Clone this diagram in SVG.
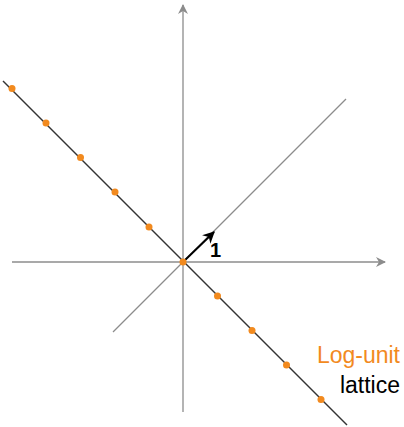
<svg xmlns="http://www.w3.org/2000/svg" width="404" height="427" viewBox="0 0 404 427">
<style>
.axis{stroke:#8c8c8c;stroke-width:1.3;fill:none}
.lat{stroke:#333;stroke-width:1.4;fill:none}
.dot{fill:#f28a1e}
.lbl{font-family:"Liberation Sans",Arial,sans-serif;font-size:23px}
</style>
<defs>
<marker id="ah" viewBox="0 0 10 10" refX="9" refY="5" markerWidth="10" markerHeight="10" markerUnits="userSpaceOnUse" orient="auto">
<path d="M0,0 L10,5 L0,10 L3,5 Z" fill="#8c8c8c"/>
</marker>
<marker id="bh" viewBox="0 0 10 10" refX="9" refY="5" markerWidth="12" markerHeight="12" markerUnits="userSpaceOnUse" orient="auto">
<path d="M0,0 L10,5 L0,10 L3,5 Z" fill="#000"/>
</marker>
</defs>
<g id="connectors">
<line class="axis" x1="12" y1="262" x2="385" y2="262" marker-end="url(#ah)"/>
<line class="axis" x1="183" y1="412" x2="183" y2="5" marker-end="url(#ah)"/>
<line class="axis" x1="113" y1="332" x2="346" y2="99"/>
<line class="lat" x1="3" y1="81" x2="347" y2="425"/>
<line x1="183" y1="262" x2="214" y2="232" stroke="#000" stroke-width="2" marker-end="url(#bh)"/>
</g>
<g id="lattice-points">
<circle class="dot" cx="12" cy="88.5" r="3.5"/>
<circle class="dot" cx="46" cy="123" r="3.5"/>
<circle class="dot" cx="80.5" cy="157.5" r="3.5"/>
<circle class="dot" cx="115" cy="192" r="3.5"/>
<circle class="dot" cx="149" cy="227" r="3.5"/>
<circle class="dot" cx="183" cy="262" r="3.5"/>
<circle class="dot" cx="217.5" cy="296" r="3.5"/>
<circle class="dot" cx="252" cy="330.5" r="3.5"/>
<circle class="dot" cx="286.5" cy="365" r="3.5"/>
<circle class="dot" cx="321" cy="399.5" r="3.5"/>
</g>
<g id="label-1">
<text class="lbl" x="210" y="257" font-weight="bold" style="font-size:20px">1</text>
</g>
<g id="label-lattice">
<text class="lbl" x="400" y="363" text-anchor="end" fill="#f28a1e">Log-unit</text>
<text class="lbl" x="400" y="393" text-anchor="end" fill="#000">lattice</text>
</g>
</svg>
